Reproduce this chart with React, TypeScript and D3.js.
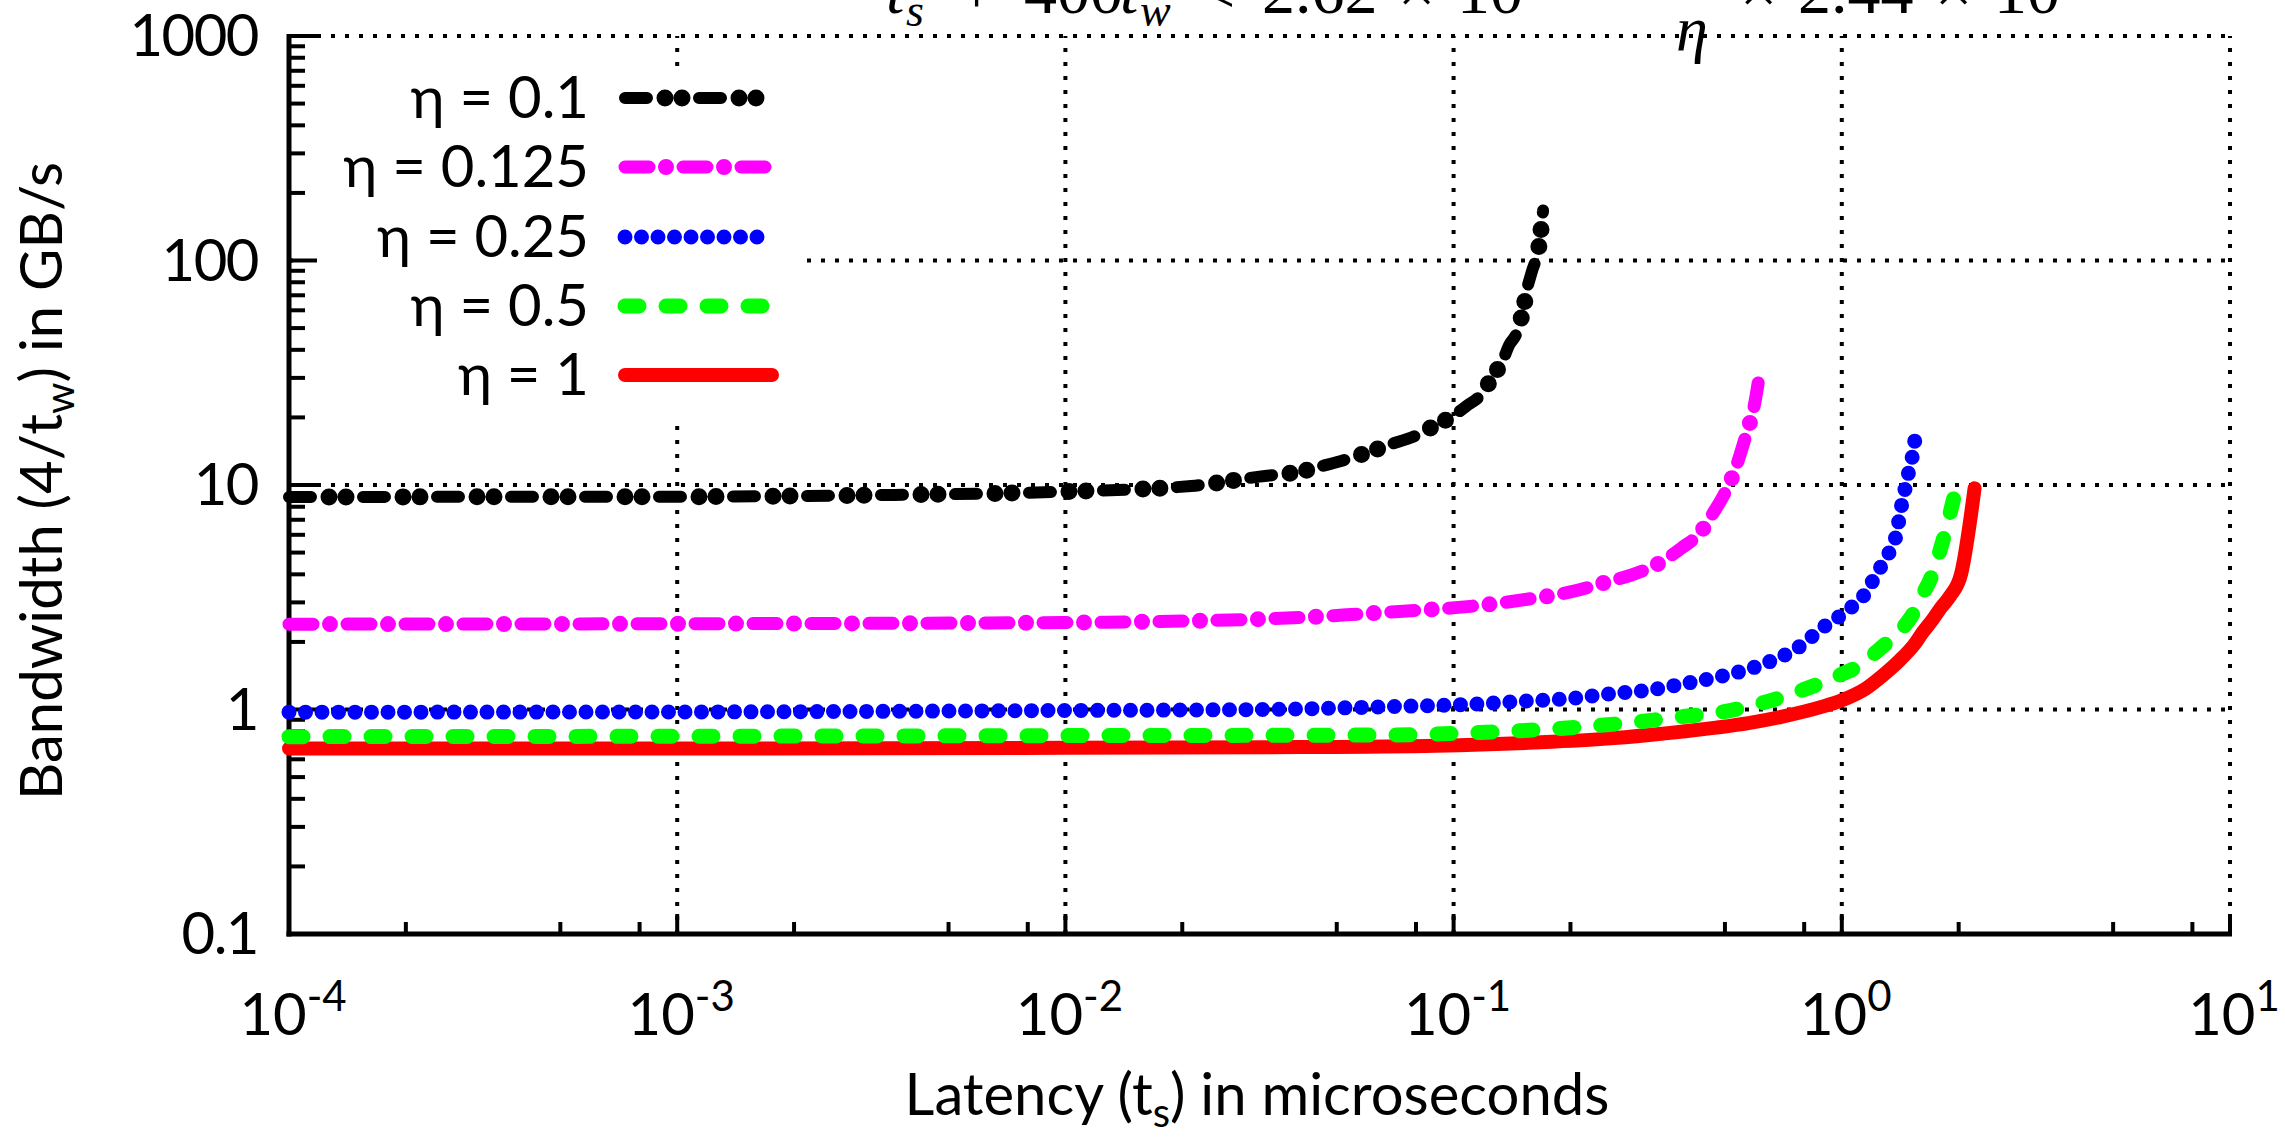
import React, { useEffect, useRef } from 'react';
import * as d3 from 'd3';

// latency t_s (microseconds) and bandwidth 4/t_w (GB/s)
const tsEta01 = [0.0001, 0.001, 0.003, 0.01, 0.0211, 0.0316, 0.0406, 0.0463, 0.0529, 0.0604, 0.069, 0.0787, 0.09, 0.1, 0.108, 0.117, 0.127, 0.134, 0.139, 0.145, 0.151, 0.155, 0.159, 0.166, 0.17];
const bwEta01 = [8.85, 8.87, 9.0, 9.35, 9.9, 10.9, 11.5, 12.2, 13.0, 14.0, 15.2, 16.4, 18.5, 20.4, 22.5, 25, 31, 36, 42, 47, 60, 76, 89, 117, 167];

const tsEta0125 = [0.0001, 0.001, 0.01, 0.0406, 0.0529, 0.069, 0.09, 0.117, 0.153, 0.2, 0.247, 0.289, 0.339, 0.387, 0.431, 0.466, 0.498, 0.525, 0.546, 0.569, 0.592, 0.611];
const bwEta0125 = [2.40, 2.41, 2.44, 2.57, 2.64, 2.72, 2.80, 2.91, 3.09, 3.34, 3.69, 3.99, 4.49, 5.25, 6.1, 7.5, 9.1, 11.1, 13.5, 17.1, 21.6, 29.6];

const tsEta025 = [0.0001, 0.001, 0.01, 0.0316, 0.069, 0.117, 0.153, 0.2, 0.26, 0.319, 0.381, 0.456, 0.544, 0.65, 0.776, 0.891, 1.045, 1.148, 1.242, 1.312, 1.384, 1.419, 1.459, 1.496, 1.538, 1.556];
const bwEta025 = [0.973, 0.975, 0.99, 1.0, 1.03, 1.06, 1.09, 1.12, 1.18, 1.22, 1.29, 1.37, 1.47, 1.63, 1.9, 2.31, 2.8, 3.28, 4.15, 4.85, 6.1, 7.8, 9.8, 12.0, 15.2, 18.5];

const tsEta05 = [0.0001, 0.001, 0.01, 0.069, 0.117, 0.2, 0.296, 0.389, 0.492, 0.624, 0.791, 0.995, 1.117, 1.247, 1.459, 1.51, 1.578, 1.71, 1.824, 1.901, 1.963];
const bwEta05 = [0.757, 0.76, 0.765, 0.77, 0.79, 0.83, 0.88, 0.93, 0.975, 1.07, 1.22, 1.43, 1.58, 1.85, 2.39, 2.59, 3.03, 3.99, 5.7, 7.5, 9.46];

const tsEta1 = [0.0001, 0.001, 0.01, 0.0406, 0.09, 0.153, 0.243, 0.319, 0.474, 0.575, 0.703, 0.891, 1.0, 1.153, 1.276, 1.406, 1.538, 1.614, 1.71, 1.803, 1.901, 2.028, 2.198];
const bwEta1 = [0.67, 0.67, 0.675, 0.68, 0.69, 0.71, 0.74, 0.77, 0.83, 0.87, 0.93, 1.03, 1.1, 1.24, 1.42, 1.65, 1.95, 2.2, 2.5, 2.85, 3.2, 4.0, 9.66];

const legendLabels = ['η = 0.1', 'η = 0.125', 'η = 0.25', 'η = 0.5', 'η = 1'];
const yTicks = [0.1, 1, 10, 100, 1000];
const yTickLabels = ['0.1', '1', '10', '100', '1000'];
const xTicks = [1e-4, 1e-3, 1e-2, 1e-1, 1, 10];
const xTickExponents = ['-4', '-3', '-2', '-1', '0', '1'];

const FONT = "Lato, 'Open Sans', sans-serif";
const MATH = "'Liberation Serif', 'DejaVu Serif', serif";

// gnuplot-ish line styles: layers of {width, dash, offset}
const styles = [
  { color: '#000000', layers: [{ w: 12, dash: '22 52', off: 0 }, { w: 17, dash: '0 17 0 57', off: -40 }] },
  { color: '#ff00ff', layers: [{ w: 13, dash: '24 34', off: 0 }, { w: 16, dash: '0 58', off: -41 }] },
  { color: '#0000ff', layers: [{ w: 15, dash: '0 16.5', off: 0 }] },
  { color: '#00ff00', layers: [{ w: 15, dash: '14 27', off: 0 }] },
  { color: '#ff0000', layers: [{ w: 14, dash: null, off: 0 }] },
];

const App = () => {
  const ref = useRef(null);

  useEffect(() => {
    const svg = d3.select(ref.current);
    svg.selectAll('*').remove();

    const width = 2285;
    const height = 1139;
    const left = 289, right = 2230, top = 36, bottom = 934;

    svg.attr('width', width).attr('height', height);

    const x = d3.scaleLog().domain([1e-4, 10]).range([left, right]);
    const y = d3.scaleLog().domain([0.1, 1000]).range([bottom, top]);

    svg.append('rect').attr('width', width).attr('height', height).attr('fill', '#fff');

    // title formula, cut off at the top edge
    const title = svg.append('g').attr('font-family', MATH).attr('font-size', 66).attr('fill', '#000');
    const piece = (px, py, txt, italic = false, size = 66) =>
      title.append('text').attr('x', px).attr('y', py).attr('font-size', size)
        .attr('font-style', italic ? 'italic' : 'normal').text(txt);
    piece(886, 13, 't', true);
    piece(906, 26, 's', true, 46);
    piece(958, 13, '+');
    piece(1024, 13, '400');
    piece(1120, 13, 't', true);
    piece(1140, 26, 'w', true, 46);
    piece(1198, 13, '<');
    piece(1262, 13, '2.62');
    piece(1398, 13, '×');
    piece(1457, 13, '10');
    piece(1740, 13, '×');
    piece(1798, 13, '2.44');
    piece(1935, 13, '×');
    piece(1994, 13, '10');

    // grid
    const grid = svg.append('g').attr('stroke', '#000').attr('stroke-width', 4)
      .attr('stroke-dasharray', '4 10');
    xTicks.slice(1).forEach(v => {
      grid.append('line').attr('x1', x(v)).attr('x2', x(v)).attr('y1', bottom).attr('y2', top);
    });
    yTicks.slice(1).forEach(v => {
      grid.append('line').attr('x1', left).attr('x2', right).attr('y1', y(v)).attr('y2', y(v));
    });

    piece(1676, 50, 'η', true, 64);

    // legend box hides grid behind it
    svg.append('rect').attr('x', left + 4).attr('y', 66).attr('width', 510).attr('height', 354).attr('fill', '#fff');

    // axes and ticks
    const axes = svg.append('g').attr('stroke', '#000');
    axes.append('line').attr('x1', left).attr('x2', left).attr('y1', top - 2).attr('y2', bottom + 2.5).attr('stroke-width', 5);
    axes.append('line').attr('x1', left - 2.5).attr('x2', right + 2).attr('y1', bottom).attr('y2', bottom).attr('stroke-width', 5);

    yTicks.forEach((v, i) => {
      axes.append('line').attr('x1', left).attr('x2', left + 28).attr('y1', y(v)).attr('y2', y(v)).attr('stroke-width', 4);
      if (i < yTicks.length - 1) {
        for (let k = 2; k <= 9; k++) {
          axes.append('line').attr('x1', left).attr('x2', left + 16)
            .attr('y1', y(v * k)).attr('y2', y(v * k)).attr('stroke-width', 4);
        }
      }
    });
    xTicks.forEach((v, i) => {
      axes.append('line').attr('x1', x(v)).attr('x2', x(v)).attr('y1', bottom).attr('y2', bottom - 20).attr('stroke-width', 4);
      if (i < xTicks.length - 1) {
        [2, 5, 8].forEach(k => {
          axes.append('line').attr('x1', x(v * k)).attr('x2', x(v * k))
            .attr('y1', bottom).attr('y2', bottom - 12).attr('stroke-width', 4);
        });
      }
    });

    // tick labels
    const labels = svg.append('g').attr('font-family', FONT).attr('font-size', 58).attr('fill', '#000');
    yTicks.forEach((v, i) => {
      labels.append('text').attr('x', 258).attr('y', y(v) + 20).attr('text-anchor', 'end')
        .attr('letter-spacing', -1.5).text(yTickLabels[i]);
    });
    xTicks.forEach((v, i) => {
      const t = labels.append('text').attr('x', x(v) + 4).attr('y', 1035).attr('text-anchor', 'middle');
      t.append('tspan').text('10');
      t.append('tspan').attr('font-size', 42).attr('dy', -24).text(xTickExponents[i]);
    });

    // axis titles
    const xl = labels.append('text').attr('x', 1257).attr('y', 1115).attr('text-anchor', 'middle');
    xl.append('tspan').text('Latency (t');
    xl.append('tspan').attr('font-size', 40).attr('dy', 12).text('s');
    xl.append('tspan').attr('dy', -12).text(') in microseconds');

    const yl = labels.append('text').attr('transform', 'translate(62,481) rotate(-90)').attr('text-anchor', 'middle');
    yl.append('tspan').text('Bandwidth (4/t');
    yl.append('tspan').attr('font-size', 40).attr('dy', 12).text('w');
    yl.append('tspan').attr('dy', -12).text(') in GB/s');

    // curves
    const series = [
      [tsEta01, bwEta01],
      [tsEta0125, bwEta0125],
      [tsEta025, bwEta025],
      [tsEta05, bwEta05],
      [tsEta1, bwEta1],
    ];
    const line = d3.line().x(d => x(d[0])).y(d => y(d[1])).curve(d3.curveMonotoneX);

    const drawStyled = (d, i) => {
      const s = styles[i];
      s.layers.forEach(l => {
        const p = svg.append('path').attr('d', d).attr('fill', 'none')
          .attr('stroke', s.color).attr('stroke-width', l.w)
          .attr('stroke-linecap', 'round').attr('stroke-linejoin', 'round');
        if (l.dash) p.attr('stroke-dasharray', l.dash).attr('stroke-dashoffset', l.off);
      });
    };

    series.slice().reverse().forEach((s, ri) => {
      const i = series.length - 1 - ri;
      const pts = s[0].map((t, j) => [t, s[1][j]]);
      drawStyled(line(pts), i);
    });

    // legend
    const rowY = [98, 167, 237, 306, 375];
    legendLabels.forEach((lab, i) => {
      labels.append('text').attr('x', 589).attr('y', rowY[i] + 20).attr('text-anchor', 'end').text(lab);
      drawStyled(`M${625},${rowY[i]}L${772},${rowY[i]}`, i);
    });
  }, []);

  return <svg ref={ref} style={{ position: 'absolute', left: 0, top: 0, display: 'block' }}></svg>;
};

export default App;
